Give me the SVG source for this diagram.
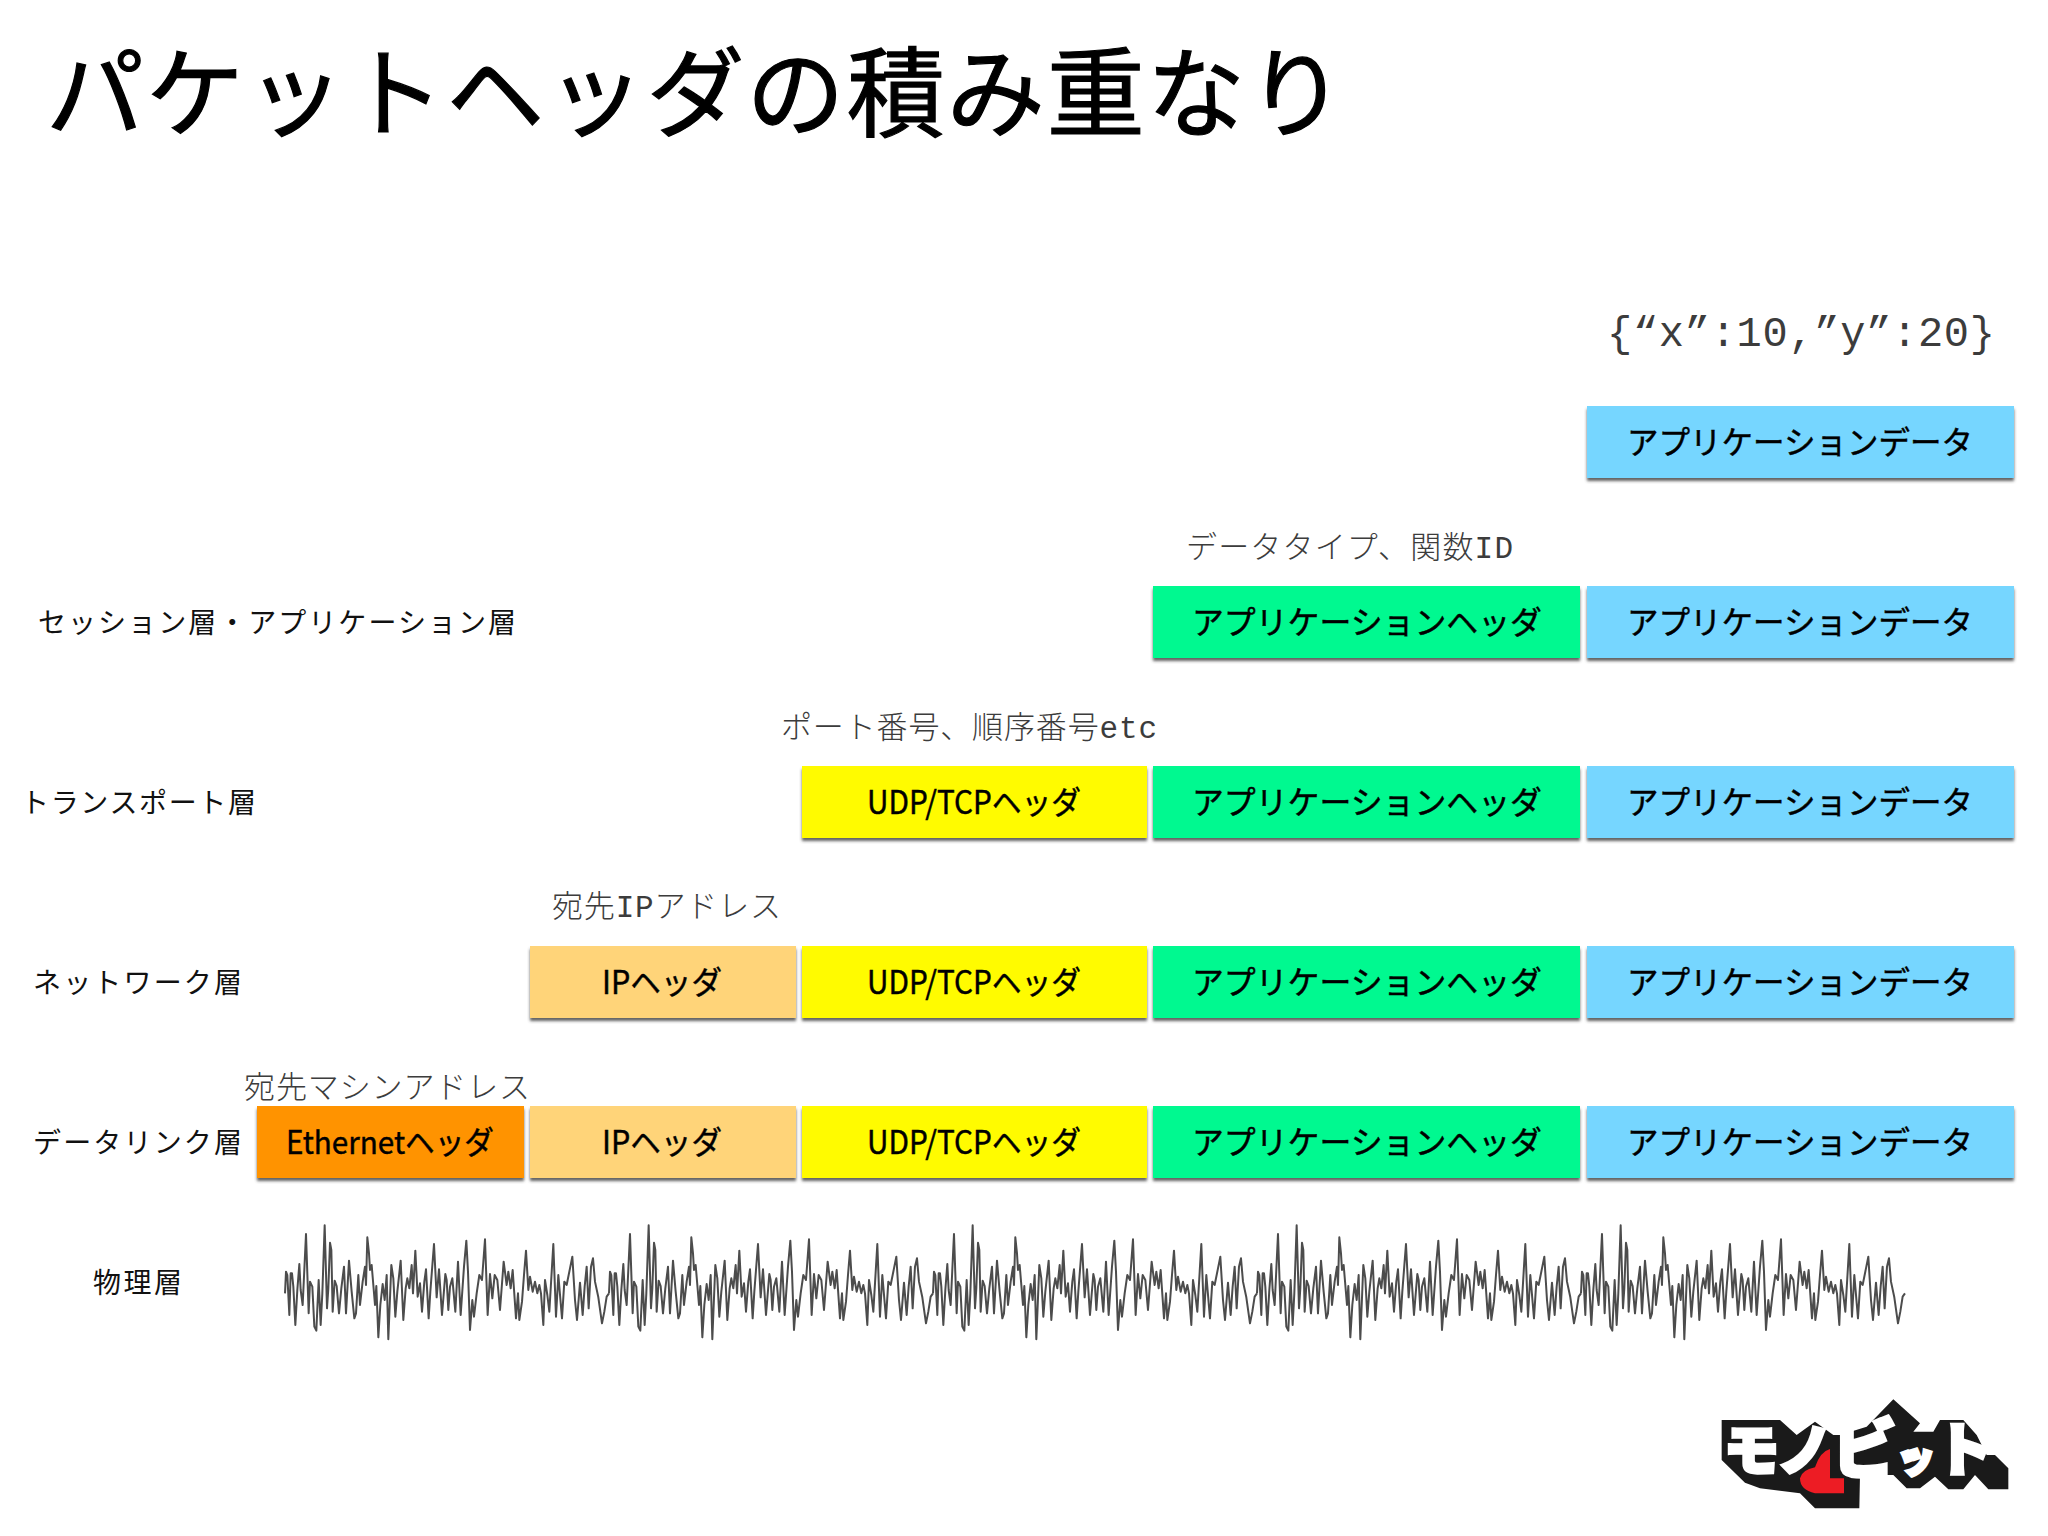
<svg xmlns="http://www.w3.org/2000/svg" width="2048" height="1536" viewBox="0 0 2048 1536">
<style>
text{font-family:"Noto Sans CJK JP","Noto Sans",sans-serif;fill:#000}
.box{filter:url(#sh)}
.data{fill:#76D6FF}.app{fill:#00F990}.tp{fill:#FFFB00}.ip{fill:#FFD479}.eth{fill:#FF9300}
.bt{font-size:32px;text-anchor:middle;font-weight:400;stroke:#000;stroke-width:.45px}
.layer{font-size:28px;fill:#111}
.note{font-family:"Liberation Mono","Noto Sans CJK JP",monospace;font-size:31px;font-weight:300;fill:#3c3c3c}
.lg{fill:#fff;stroke:#fff;stroke-width:10px;font-weight:900}
#wave{fill:none;stroke:#4c4c4c;stroke-width:6;stroke-linejoin:round}
</style>
<defs>
<filter id="sh" x="-5%" y="-10%" width="110%" height="125%"><feDropShadow dx="0" dy="3" stdDeviation="1.6" flood-color="#444" flood-opacity=".85"/></filter>
<polyline id="wave" points="45,250 48,185 52,195 58,315 62,190 66,190 70,230 76,345 82,240 88,162 92,240 98,285 108,72 116,310 120,215 127,230 133,350 139,362 146,210 152,345 157,250 164,46 171,295 175,235 180,98 184,120 188,305 194,212 200,228 207,310 214,235 222,170 228,310 237,152 245,245 253,325 258,310 265,195 270,285 278,215 285,170 288,225 292,82 297,130 300,180 305,165 315,285 319,228 325,382 331,285 338,222 344,270 350,195 355,388 364,165 370,205 376,320 382,245 392,152 400,330 407,235 412,205 418,235 425,165 429,250 436,122 443,260 450,220 456,305 463,215 468,178 476,325 481,245 492,102 500,262 507,178 516,315 526,192 530,210 535,300 540,230 547,205 556,305 564,155 572,315 582,170 589,92 594,185 600,360 607,270 612,320 620,250 628,195 636,210 645,88 653,315 660,192 667,265 674,195 682,210 690,300 701,155 710,225 715,185 722,235 728,180 738,325 744,250 748,330 756,275 762,195 768,122 775,240 780,200 788,245 795,215 802,250 808,225 813,250 820,345 825,210 832,255 838,305 850,102 858,320 865,195 876,325 883,215 890,225 900,175 907,140 915,270 921,330 930,218 938,315 944,230 950,170 956,295 963,170 969,145 975,215 985,262 996,340 1003,305 1010,260 1017,250"/>
</defs>
<rect width="2048" height="1536" fill="#fff"/>
<text id="title" x="46" y="129" font-size="98" textLength="1299" style="stroke:#000;stroke-width:1.2px">パケットヘッダの積み重なり</text>
<text id="json" class="note" x="1607" y="346" style="font-size:42px" textLength="388">{“x”:10,”y”:20}</text>

<g id="row-app-data"><rect class="box data" x="1587" y="406" width="427" height="72"/><text class="bt" x="1800" y="454" textLength="346" lengthAdjust="spacingAndGlyphs">アプリケーションデータ</text></g>

<text id="note-app" class="note" x="1186" y="558" textLength="327">データタイプ、関数ID</text>
<text id="layer-app" class="layer" x="38" y="633" textLength="478">セッション層・アプリケーション層</text>
<g id="row-session-app"><rect class="box app" x="1153" y="586" width="427" height="72"/><text class="bt" x="1367" y="634" textLength="350" lengthAdjust="spacingAndGlyphs">アプリケーションヘッダ</text></g>
<g id="row-session-data"><rect class="box data" x="1587" y="586" width="427" height="72"/><text class="bt" x="1800" y="634" textLength="346" lengthAdjust="spacingAndGlyphs">アプリケーションデータ</text></g>

<text id="note-tp" class="note" x="781" y="738" textLength="376">ポート番号、順序番号etc</text>
<text id="layer-tp" class="layer" x="21" y="813" textLength="235">トランスポート層</text>
<g id="row-tp-udp"><rect class="box tp" x="802" y="766" width="345" height="72"/><text class="bt" x="974" y="814" textLength="214" lengthAdjust="spacingAndGlyphs">UDP/TCPヘッダ</text></g>
<g id="row-tp-app"><rect class="box app" x="1153" y="766" width="427" height="72"/><text class="bt" x="1367" y="814" textLength="350" lengthAdjust="spacingAndGlyphs">アプリケーションヘッダ</text></g>
<g id="row-tp-data"><rect class="box data" x="1587" y="766" width="427" height="72"/><text class="bt" x="1800" y="814" textLength="346" lengthAdjust="spacingAndGlyphs">アプリケーションデータ</text></g>

<text id="note-ip" class="note" x="552" y="917" textLength="229">宛先IPアドレス</text>
<text id="layer-net" class="layer" x="33" y="993" textLength="209">ネットワーク層</text>
<g id="row-net-ip"><rect class="box ip" x="530" y="946" width="266" height="72"/><text class="bt" x="662" y="994" textLength="120" lengthAdjust="spacingAndGlyphs">IPヘッダ</text></g>
<g id="row-net-udp"><rect class="box tp" x="802" y="946" width="345" height="72"/><text class="bt" x="974" y="994" textLength="214" lengthAdjust="spacingAndGlyphs">UDP/TCPヘッダ</text></g>
<g id="row-net-app"><rect class="box app" x="1153" y="946" width="427" height="72"/><text class="bt" x="1367" y="994" textLength="350" lengthAdjust="spacingAndGlyphs">アプリケーションヘッダ</text></g>
<g id="row-net-data"><rect class="box data" x="1587" y="946" width="427" height="72"/><text class="bt" x="1800" y="994" textLength="346" lengthAdjust="spacingAndGlyphs">アプリケーションデータ</text></g>

<text id="note-mac" class="note" x="244" y="1098" textLength="286">宛先マシンアドレス</text>
<text id="layer-link" class="layer" x="33" y="1153" textLength="209">データリンク層</text>
<g id="row-link-eth"><rect class="box eth" x="257" y="1106" width="267" height="72"/><text class="bt" x="390" y="1154" textLength="208" lengthAdjust="spacingAndGlyphs">Ethernetヘッダ</text></g>
<g id="row-link-ip"><rect class="box ip" x="530" y="1106" width="266" height="72"/><text class="bt" x="662" y="1154" textLength="120" lengthAdjust="spacingAndGlyphs">IPヘッダ</text></g>
<g id="row-link-udp"><rect class="box tp" x="802" y="1106" width="345" height="72"/><text class="bt" x="974" y="1154" textLength="214" lengthAdjust="spacingAndGlyphs">UDP/TCPヘッダ</text></g>
<g id="row-link-app"><rect class="box app" x="1153" y="1106" width="427" height="72"/><text class="bt" x="1367" y="1154" textLength="350" lengthAdjust="spacingAndGlyphs">アプリケーションヘッダ</text></g>
<g id="row-link-data"><rect class="box data" x="1587" y="1106" width="427" height="72"/><text class="bt" x="1800" y="1154" textLength="346" lengthAdjust="spacingAndGlyphs">アプリケーションデータ</text></g>

<text id="layer-phy" class="layer" x="93" y="1293" textLength="89">物理層</text>
<g id="signal" transform="translate(270 1210) scale(.33333)">
<use href="#wave"/><use href="#wave" x="972"/><use href="#wave" x="1944"/><use href="#wave" x="2916"/><use href="#wave" x="3888"/>
</g>

<g id="logo" transform="translate(1700 1380) scale(.33333)">
<polygon fill="#1a1a1a" points="65,120 240,120 290,165 345,125 400,165 420,165 500,140 580,58 660,130 640,155 700,155 720,120 790,120 830,165 860,225 885,225 925,265 925,328 865,328 825,285 790,328 745,328 705,290 660,325 620,325 580,285 480,285 478,385 345,385 300,340 180,325 135,308 65,240"/>
<text class="lg" x="72" y="270" font-size="165">モ</text>
<text class="lg" x="232" y="270" font-size="165">ノ</text>
<text class="lg" x="395" y="278" font-size="195">ビ</text>
<text class="lg" x="590" y="275" font-size="115">ッ</text>
<text class="lg" x="705" y="272" font-size="175">ト</text>
<path fill="#ED1C24" d="M390,207 V295 H432 V340 H345 Q300,330 300,295 Q305,270 345,262 Q360,215 390,207Z"/>
</g>
</svg>
